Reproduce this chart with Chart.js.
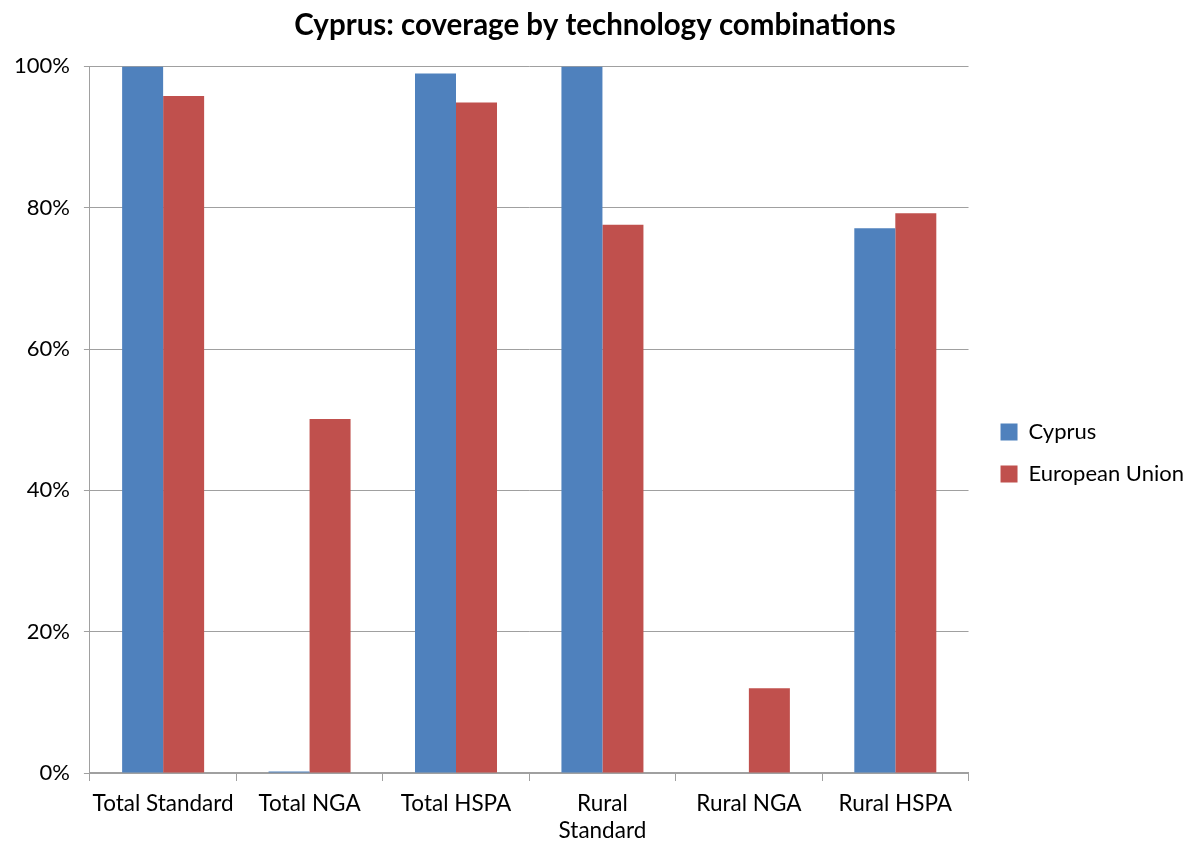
<!DOCTYPE html>
<html>
<head>
<meta charset="utf-8">
<script src="https://cdn.jsdelivr.net/npm/chart.js@4/dist/chart.umd.min.js"></script>
<style>
  html, body { margin: 0; padding: 0; background: #fff; }
  #wrap { width: 1190px; height: 846px; }
</style>
</head>
<body>
<div id="wrap"><canvas id="chart" width="1190" height="846"></canvas></div>
<script>
// Data
const categories = ['Total Standard', 'Total NGA', 'Total HSPA', ['Rural', 'Standard'], 'Rural NGA', 'Rural HSPA'];
const cyprusValues = [100, 0.2, 99.0, 100, 0, 77.1];
const euValues = [95.8, 50.1, 94.9, 77.6, 12.0, 79.2];
const yTicks = [0, 20, 40, 60, 80, 100];

const FONT = 'Lato, "Open Sans", sans-serif';

const ctx = document.getElementById('chart').getContext('2d');
new Chart(ctx, {
  type: 'bar',
  data: {
    labels: categories,
    datasets: [
      {
        label: 'Cyprus',
        data: cyprusValues,
        backgroundColor: '#4f81bd',
        categoryPercentage: 0.56,
        barPercentage: 1.0
      },
      {
        label: 'European Union',
        data: euValues,
        backgroundColor: '#c0504d',
        categoryPercentage: 0.56,
        barPercentage: 1.0
      }
    ]
  },
  options: {
    responsive: false,
    animation: false,
    layout: { padding: { top: 4, left: 0, right: 0, bottom: 0 } },
    plugins: {
      title: {
        display: true,
        text: 'Cyprus: coverage by technology combinations',
        color: '#000',
        font: { family: FONT, size: 29.5, weight: 'bold' },
        padding: { top: 4, bottom: 23 }
      },
      legend: {
        position: 'right',
        labels: {
          color: '#000',
          font: { family: FONT, size: 22 },
          boxWidth: 17,
          boxHeight: 17,
          padding: 20
        }
      },
      tooltip: { enabled: false }
    },
    scales: {
      x: {
        // labels may run to the bottom edge, as in the reference
        afterFit: axis => { axis.height -= 7; },
        grid: {
          offset: true,
          drawOnChartArea: false,
          color: '#a0a0a0',
          tickLength: 8
        },
        border: { color: '#a0a0a0', width: 2 },
        ticks: {
          color: '#000',
          font: { family: FONT, size: 22.5 },
          maxRotation: 0,
          autoSkip: false,
          padding: 9
        }
      },
      y: {
        min: 0,
        max: 100,
        afterBuildTicks: axis => { axis.ticks = yTicks.map(v => ({ value: v })); },
        grid: {
          color: '#a0a0a0',
          tickLength: 6
        },
        border: { color: '#a0a0a0' },
        ticks: {
          color: '#000',
          font: { family: FONT, size: 22 },
          padding: 14,
          callback: v => v + '%'
        }
      }
    }
  },
  plugins: [{
    // legend sits a bit lower and further right than Chart.js puts it
    id: 'legendPlace',
    beforeInit(chart) {
      const fit = chart.legend.fit;
      chart.legend.fit = function () {
        fit.bind(chart.legend)();
        this.width += 8;
      };
    },
    afterLayout(chart) {
      const lg = chart.legend;
      lg.left += 12;
      lg.right += 12;
      lg.top += 56;
    }
  }]
});
</script>
</body>
</html>
